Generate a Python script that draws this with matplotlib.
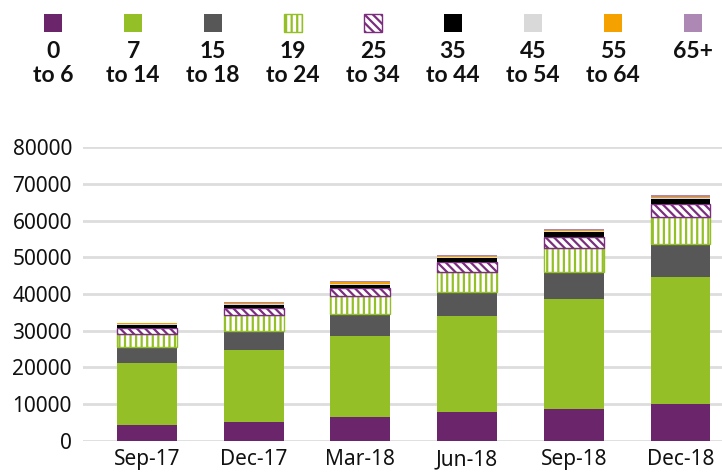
import matplotlib.pyplot as plt
from matplotlib.patches import Rectangle
import numpy as np

plt.rcParams["font.family"] = ["Noto Sans", "DejaVu Sans"]
plt.rcParams["hatch.linewidth"] = 1.6

quarters = ["Sep-17", "Dec-17", "Mar-18", "Jun-18", "Sep-18", "Dec-18"]
age_groups = ["0\nto 6", "7\nto 14", "15\nto 18", "19\nto 24", "25\nto 34",
              "35\nto 44", "45\nto 54", "55\nto 64", "65+"]

age_0_6 = [4200, 5100, 6450, 7800, 8600, 9900]
age_7_14 = [17000, 19600, 22100, 26200, 30000, 34700]
age_15_18 = [4250, 5200, 6000, 6550, 7350, 8900]
age_19_24 = [3700, 4350, 4900, 5550, 6600, 7400]
age_25_34 = [1650, 1850, 2100, 2550, 3000, 3600]
age_35_44 = [800, 900, 900, 1150, 1300, 1400]
age_45_54 = [150, 200, 250, 200, 200, 250]
age_55_64 = [250, 300, 450, 350, 350, 400]
age_65 = [200, 300, 350, 300, 300, 400]

series = [age_0_6, age_7_14, age_15_18, age_19_24, age_25_34,
          age_35_44, age_45_54, age_55_64, age_65]

# face, edge, hatch for each age group
styles = [
    ("#6a256b", "#6a256b", None),
    ("#94bf26", "#94bf26", None),
    ("#575757", "#575757", None),
    ("white", "#94bf26", "|||"),
    ("white", "#7b2e7e", "\\\\\\\\"),
    ("black", "black", None),
    ("#d9d9d9", "#d9d9d9", None),
    ("#f5a100", "#f5a100", None),
    ("#ae88b5", "#ae88b5", None),
]

fig = plt.figure(figsize=(7.22, 4.76), dpi=100)
ax = fig.add_axes([83 / 722, 1 - 440.7 / 476, 1 - 83 / 722, 293.4 / 476])

x = np.arange(len(quarters))
bottom = np.zeros(len(quarters))
for vals, (fc, ec, hatch) in zip(series, styles):
    lw = 1.0 if hatch else 0
    ax.bar(x, vals, width=0.56, bottom=bottom, facecolor=fc, edgecolor=ec,
           hatch=hatch, linewidth=lw, zorder=3)
    bottom += np.array(vals)

ax.set_ylim(0, 80000)
ax.set_xlim(-0.6, 5.39)
ax.set_yticks(range(0, 80001, 10000))
ax.set_xticks(x)
ax.set_xticklabels(quarters)
ax.grid(axis="y", color="#dddddd", linewidth=2, zorder=0)
for s in ax.spines.values():
    s.set_visible(False)
ax.tick_params(length=0, labelsize=15, colors="#111111")
ax.tick_params(axis="y", pad=8)
ax.tick_params(axis="x", pad=6)

# legend across the top
for i, (lab, (fc, ec, hatch)) in enumerate(zip(age_groups, styles)):
    cx = 53 + i * 80
    r = Rectangle(((cx - 9) / 722, 1 - 32 / 476), 18 / 722, 18 / 476,
                  transform=fig.transFigure, facecolor=fc, edgecolor=ec,
                  hatch=hatch, linewidth=1.0 if hatch else 0)
    fig.add_artist(r)
    fig.text(cx / 722, 1 - 41 / 476, lab, ha="center", va="top",
             fontsize=16.5, fontweight="bold", color="#111111",
             linespacing=1.2, family=["Lato", "DejaVu Sans"])

fig.savefig("out.png", dpi=100)
